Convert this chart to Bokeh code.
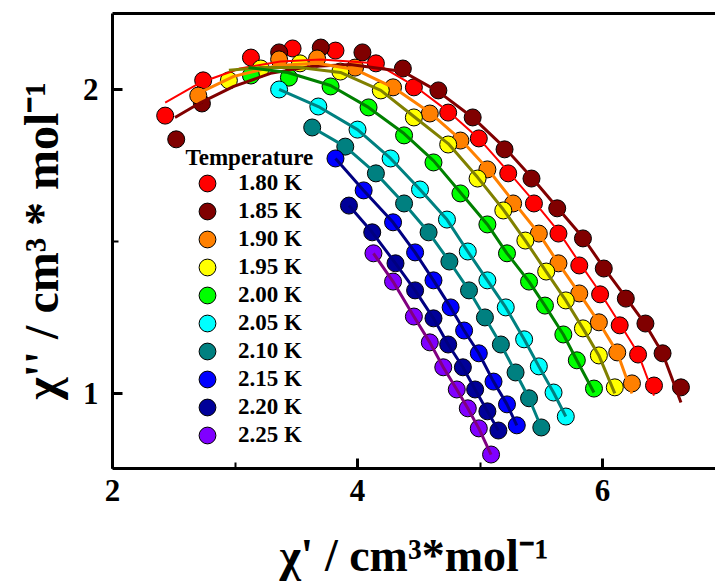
from bokeh.plotting import figure
from bokeh.models import Range1d, SingleIntervalTicker, FixedTicker, LinearAxis, Legend, LegendItem, Label
from bokeh.embed import file_html
from bokeh.resources import INLINE

temps = ["1.80 K", "1.85 K", "1.90 K", "1.95 K", "2.00 K",
         "2.05 K", "2.10 K", "2.15 K", "2.20 K", "2.25 K"]
marker_colors = ["#FF0000", "#800000", "#FF8000", "#FFFF00", "#00FF00",
                 "#00FFFF", "#008080", "#0000FF", "#000099", "#8000FF"]
line_colors = ["#FF0000", "#800000", "#FF8000", "#808000", "#008000",
               "#008080", "#008080", "#000080", "#000080", "#800080"]

# measured chi' (x) and chi'' (y), cm3 mol-1
x_180 = [2.43, 2.74, 3.13, 3.47, 3.82, 4.15, 4.46, 4.74, 4.99, 5.23, 5.44, 5.64, 5.81, 5.98, 6.14, 6.29, 6.42]
y_180 = [1.914, 2.030, 2.105, 2.135, 2.128, 2.086, 2.007, 1.924, 1.839, 1.724, 1.625, 1.526, 1.421, 1.326, 1.224, 1.128, 1.026]
x_185 = [2.52, 2.73, 3.36, 3.70, 4.04, 4.37, 4.66, 4.94, 5.20, 5.42, 5.63, 5.84, 6.01, 6.19, 6.35, 6.49, 6.64]
y_185 = [1.836, 1.954, 2.122, 2.138, 2.122, 2.069, 1.997, 1.908, 1.803, 1.707, 1.609, 1.510, 1.411, 1.312, 1.230, 1.132, 1.020]
x_190 = [2.70, 3.36, 3.67, 3.98, 4.29, 4.59, 4.84, 5.06, 5.27, 5.48, 5.64, 5.81, 5.97, 6.12, 6.24]
y_190 = [1.980, 2.099, 2.102, 2.072, 2.007, 1.921, 1.832, 1.737, 1.625, 1.526, 1.428, 1.329, 1.234, 1.135, 1.033]
x_195 = [2.95, 3.21, 3.53, 3.86, 4.19, 4.46, 4.74, 4.98, 5.19, 5.37, 5.54, 5.70, 5.84, 5.97, 6.10]
y_195 = [2.030, 2.069, 2.086, 2.059, 1.997, 1.908, 1.819, 1.707, 1.602, 1.503, 1.401, 1.306, 1.214, 1.125, 1.020]
x_200 = [3.13, 3.44, 3.78, 4.09, 4.38, 4.62, 4.84, 5.06, 5.22, 5.40, 5.53, 5.68, 5.79, 5.93]
y_200 = [2.046, 2.039, 2.010, 1.941, 1.849, 1.760, 1.658, 1.556, 1.461, 1.368, 1.289, 1.194, 1.109, 1.016]
x_205 = [3.36, 3.68, 4.00, 4.27, 4.51, 4.73, 4.90, 5.06, 5.21, 5.36, 5.48, 5.60, 5.70]
y_205 = [2.000, 1.944, 1.868, 1.773, 1.671, 1.572, 1.467, 1.372, 1.283, 1.178, 1.089, 1.003, 0.924]
x_210 = [3.63, 3.90, 4.15, 4.38, 4.58, 4.75, 4.91, 5.04, 5.17, 5.29, 5.40, 5.50]
y_210 = [1.875, 1.812, 1.724, 1.625, 1.530, 1.434, 1.339, 1.250, 1.161, 1.069, 0.984, 0.888]
x_215 = [3.82, 4.05, 4.29, 4.47, 4.62, 4.76, 4.87, 4.99, 5.11, 5.22, 5.30]
y_215 = [1.773, 1.668, 1.563, 1.464, 1.372, 1.283, 1.207, 1.132, 1.039, 0.964, 0.895]
x_220 = [3.93, 4.12, 4.31, 4.47, 4.62, 4.74, 4.86, 4.96, 5.06, 5.15]
y_220 = [1.618, 1.530, 1.428, 1.339, 1.247, 1.161, 1.086, 1.013, 0.941, 0.878]
x_225 = [4.13, 4.29, 4.46, 4.59, 4.70, 4.81, 4.90, 4.99, 5.09]
y_225 = [1.461, 1.368, 1.253, 1.168, 1.086, 1.013, 0.951, 0.885, 0.799]

# fitted curves
fx_180 = [2.43, 2.72, 3.04, 3.37, 3.70, 4.15, 4.46, 4.74, 4.99, 5.23, 5.44, 5.64, 5.81, 5.98, 6.14, 6.29, 6.42]
fy_180 = [1.957, 2.023, 2.069, 2.092, 2.099, 2.086, 2.013, 1.928, 1.839, 1.730, 1.632, 1.533, 1.431, 1.332, 1.230, 1.132, 0.993]
fx_185 = [2.51, 2.72, 2.99, 3.29, 3.62, 3.94, 4.37, 4.66, 4.94, 5.20, 5.42, 5.63, 5.84, 6.01, 6.19, 6.35, 6.49, 6.64]
fy_185 = [1.908, 1.957, 2.010, 2.053, 2.076, 2.082, 2.059, 1.993, 1.908, 1.809, 1.711, 1.612, 1.513, 1.414, 1.316, 1.227, 1.132, 0.970]
fx_190 = [2.70, 2.99, 3.35, 3.67, 3.98, 4.29, 4.59, 4.84, 5.06, 5.27, 5.48, 5.64, 5.81, 5.97, 6.12, 6.24]
fy_190 = [1.987, 2.043, 2.079, 2.086, 2.066, 2.007, 1.924, 1.836, 1.740, 1.632, 1.526, 1.428, 1.329, 1.234, 1.135, 1.000]
fx_195 = [2.95, 3.21, 3.53, 3.86, 4.19, 4.46, 4.74, 4.98, 5.19, 5.37, 5.54, 5.70, 5.84, 5.97, 6.10]
fy_195 = [2.063, 2.072, 2.072, 2.056, 1.997, 1.911, 1.822, 1.711, 1.605, 1.503, 1.401, 1.306, 1.214, 1.125, 1.000]
fx_200 = [3.11, 3.43, 3.78, 4.09, 4.38, 4.62, 4.84, 5.06, 5.22, 5.40, 5.53, 5.68, 5.79, 5.93]
fy_200 = [2.072, 2.056, 2.013, 1.941, 1.855, 1.766, 1.661, 1.556, 1.461, 1.368, 1.289, 1.194, 1.109, 1.003]

xs = [x_180, x_185, x_190, x_195, x_200, x_205, x_210, x_215, x_220, x_225]
ys = [y_180, y_185, y_190, y_195, y_200, y_205, y_210, y_215, y_220, y_225]
fxs = [fx_180, fx_185, fx_190, fx_195, fx_200, x_205, x_210, x_215, x_220, x_225]
fys = [fy_180, fy_185, fy_190, fy_195, fy_200, y_205, y_210, y_215, y_220, y_225]
line_widths = [2, 3, 3, 3, 3, 3, 3, 3, 3, 3]

FONT = "Liberation Serif"

p = figure(width=715, height=587, x_range=Range1d(2, 6.922), y_range=Range1d(0.753, 2.25),
           output_backend="svg", toolbar_location=None,
           min_border_left=112, min_border_right=0, min_border_top=13, min_border_bottom=119)
p.outline_line_color = None
p.grid.visible = False
p.background_fill_color = "white"

p.xaxis.ticker = SingleIntervalTicker(interval=2, num_minor_ticks=2)
p.yaxis.ticker = SingleIntervalTicker(interval=1, num_minor_ticks=2)
p.xaxis.axis_label = "χ' / cm³*mol⁻¹"
p.yaxis.axis_label = "χ'' / cm³ * mol⁻¹"
for ax in (p.xaxis[0], p.yaxis[0]):
    ax.axis_line_width = 3
    ax.axis_line_color = "black"
    ax.major_tick_in = 10
    ax.major_tick_out = 0
    ax.major_tick_line_width = 3
    ax.major_tick_line_color = "black"
    ax.minor_tick_in = 6
    ax.minor_tick_out = 0
    ax.minor_tick_line_width = 2
    ax.minor_tick_line_color = "black"
    ax.major_label_text_font = FONT
    ax.major_label_text_font_style = "bold"
    ax.major_label_text_font_size = "31px"
    ax.major_label_text_color = "black"
    ax.axis_label_text_font = FONT
    ax.axis_label_text_font_style = "bold"
    ax.axis_label_text_color = "black"
p.xaxis.major_label_standoff = 11
p.yaxis.major_label_standoff = 14
p.xaxis.axis_label_text_font_size = "46px"
p.yaxis.axis_label_text_font_size = "48px"
p.xaxis.axis_label_standoff = 26
p.yaxis.axis_label_standoff = 12

top = LinearAxis(ticker=FixedTicker(ticks=[]), axis_line_width=3, axis_line_color="black",
                 major_tick_in=0, major_tick_out=0, minor_tick_in=0, minor_tick_out=0)
p.add_layout(top, "above")

renderers = []
for i in range(len(temps)):
    r = p.scatter(xs[i], ys[i], size=17, fill_color=marker_colors[i],
                  line_color="black", line_width=1)
    renderers.append(r)
for i in range(len(temps)):
    p.line(fxs[i], fys[i], line_color=line_colors[i], line_width=line_widths[i])

common = dict(glyph_width=42, glyph_height=42, spacing=14, label_standoff=10,
              padding=0, margin=0, border_line_color=None, background_fill_alpha=0,
              label_text_font=FONT, label_text_font_style="bold", label_text_font_size="23px",
              label_text_color="black")
legend_a = Legend(items=[LegendItem(label=temps[i], renderers=[renderers[i]]) for i in range(0, 10, 2)],
                  location=(74, 40), **common)
legend_b = Legend(items=[LegendItem(label=temps[i], renderers=[renderers[i]]) for i in range(1, 10, 2)],
                  location=(74, 12), **common)
p.add_layout(legend_a)
p.add_layout(legend_b)

title = Label(x=73, y=311, x_units="screen", y_units="screen", text="Temperature",
              text_font=FONT, text_font_style="bold", text_font_size="23px",
              text_color="black", text_baseline="middle", text_align="left")
p.add_layout(title)

open("out.html", "w").write(file_html(p, INLINE))
